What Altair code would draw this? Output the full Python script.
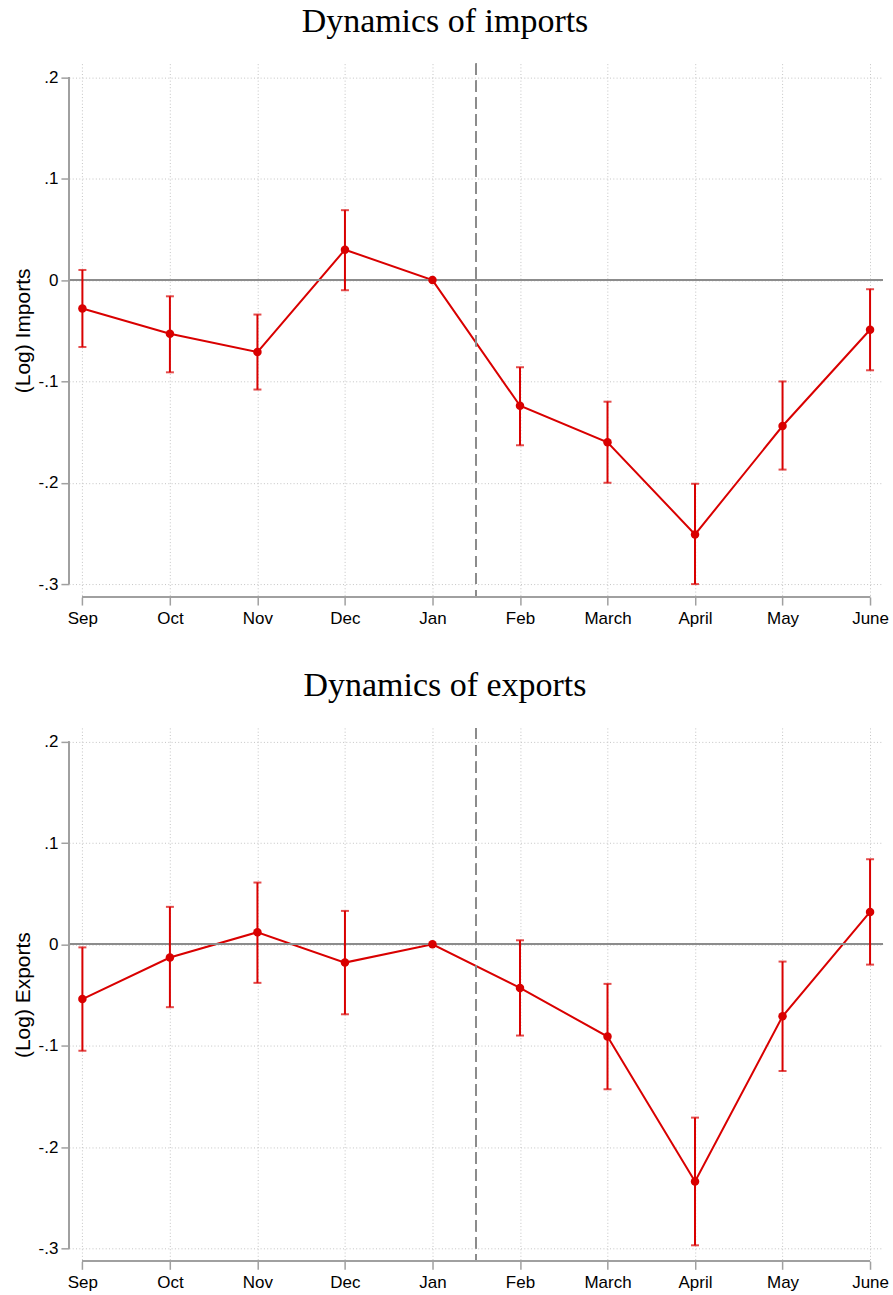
import altair as alt
import pandas as pd

# ---------------- data ----------------
months = ["Sep", "Oct", "Nov", "Dec", "Jan", "Feb", "March", "April", "May", "June"]

imp_coef = [-0.028, -0.053, -0.071, 0.030, 0.0, -0.124, -0.160, -0.251, -0.144, -0.049]
imp_lo = [-0.066, -0.091, -0.108, -0.010, None, -0.163, -0.200, -0.300, -0.187, -0.089]
imp_hi = [0.010, -0.016, -0.034, 0.069, None, -0.086, -0.120, -0.201, -0.100, -0.009]

exp_coef = [-0.054, -0.013, 0.012, -0.018, 0.0, -0.043, -0.091, -0.234, -0.071, 0.032]
exp_lo = [-0.105, -0.062, -0.038, -0.069, None, -0.090, -0.143, -0.297, -0.125, -0.020]
exp_hi = [-0.003, 0.037, 0.061, 0.033, None, 0.004, -0.039, -0.171, -0.017, 0.084]

y_ticks = [0.2, 0.1, 0.0, -0.1, -0.2, -0.3]
y_tick_labels = [".2", ".1", "0", "-.1", "-.2", "-.3"]

titles = ["Dynamics of imports", "Dynamics of exports"]
y_titles = ["(Log) Imports", "(Log) Exports"]

# ---------------- style ----------------
RED = "#d90000"
GRID = "#c4c4c4"
AXIS = "#a0a0a0"
SANS = "Liberation Sans"
SERIF = "Liberation Serif"

X_DOMAIN = [-0.154, len(months) - 1 + 0.148]
Y_DOMAIN = [-0.3128, 0.2136]
W, H = 815, 534

month_label_expr = "[" + ",".join("'%s'" % m for m in months) + "][round(datum.value)]"
y_label_expr = ("[" + ",".join("'%s'" % l for l in y_tick_labels) + "]"
                + "[round((%s - datum.value) * 10)]" % y_ticks[0])

break_pos = (months.index("Jan") + months.index("Feb")) / 2.0


def panel(coef, lo, hi, ytitle, title):
    df = pd.DataFrame({
        "idx": list(range(len(months))),
        "month": months,
        "coef": coef,
        "lo": lo,
        "hi": hi,
    })
    base = alt.Chart(df)
    xscale = alt.Scale(domain=X_DOMAIN, nice=False, zero=False)
    yscale = alt.Scale(domain=Y_DOMAIN, nice=False, zero=False)

    x_axis = alt.Axis(
        values=list(range(len(months))), labelExpr=month_label_expr, title=None,
        grid=True, gridDash=[1, 2.3], gridColor=GRID, gridWidth=1,
        domain=False, ticks=True, tickColor=AXIS, tickSize=8, tickWidth=1.5,
        labelFont=SANS, labelFontSize=17, labelColor="black", labelPadding=5,
        labelFlush=False, labelOverlap=False,
    )
    y_axis = alt.Axis(
        values=y_ticks, labelExpr=y_label_expr, title=ytitle,
        grid=True, gridDash=[1, 2.3], gridColor=GRID, gridWidth=1,
        domain=False, ticks=True, tickColor=AXIS, tickSize=8, tickWidth=1.5,
        labelFont=SANS, labelFontSize=17, labelColor="black", labelPadding=3,
        labelFlush=False, labelOverlap=False,
        titleFont=SANS, titleFontSize=21, titleFontWeight="normal", titleColor="black",
        titlePadding=5,
    )

    X = alt.X("idx:Q", scale=xscale, axis=x_axis)

    main_line = base.mark_line(color=RED, strokeWidth=2).encode(
        x=X,
        y=alt.Y("coef:Q", scale=yscale, axis=y_axis),
    )
    # axis lines (Stata style: spanning first..last tick only)
    yline = base.mark_rule(color=AXIS, strokeWidth=1.5).encode(
        x=alt.value(0),
        y=alt.datum(y_ticks[-1]),
        y2=alt.datum(y_ticks[0]),
    )
    xline = base.mark_rule(color=AXIS, strokeWidth=1.5).encode(
        y=alt.value(H),
        x=alt.datum(0),
        x2=alt.datum(len(months) - 1),
    )
    zero = base.mark_rule(color="#8c8c8c", strokeWidth=1.5).encode(
        y=alt.datum(0),
    )
    vline = base.mark_rule(color="#8c8c8c", strokeWidth=1.5, strokeDash=[11, 6]).encode(
        x=alt.datum(break_pos),
    )
    bars = base.mark_rule(color=RED, strokeWidth=2).encode(
        x=X,
        y=alt.Y("lo:Q", scale=yscale, axis=y_axis),
        y2="hi:Q",
    )
    caps_lo = base.mark_tick(color=RED, orient="horizontal", size=8, thickness=2).encode(
        x=X,
        y=alt.Y("lo:Q", scale=yscale, axis=y_axis),
    )
    caps_hi = base.mark_tick(color=RED, orient="horizontal", size=8, thickness=2).encode(
        x=X,
        y=alt.Y("hi:Q", scale=yscale, axis=y_axis),
    )
    pts = base.mark_circle(color=RED, size=72, opacity=1).encode(
        x=X,
        y=alt.Y("coef:Q", scale=yscale, axis=y_axis),
    )

    return alt.layer(
        main_line, zero, vline, yline, xline, bars, caps_lo, caps_hi, pts
    ).properties(
        width=W, height=H,
        title=alt.TitleParams(
            text=title, font=SERIF, fontSize=34, fontWeight="normal", color="black",
            anchor="middle", offset=24, dx=-31,
        ),
    )


p1 = panel(imp_coef, imp_lo, imp_hi, y_titles[0], titles[0])
p2 = panel(exp_coef, exp_lo, exp_hi, y_titles[1], titles[1])

chart = alt.vconcat(p1, p2, spacing=43).properties(
    padding={"left": 12, "top": 4, "right": 4, "bottom": 4},
    background="white",
).configure_view(stroke=None)

chart.save("out.html", embed_options={"renderer": "svg", "actions": False})
